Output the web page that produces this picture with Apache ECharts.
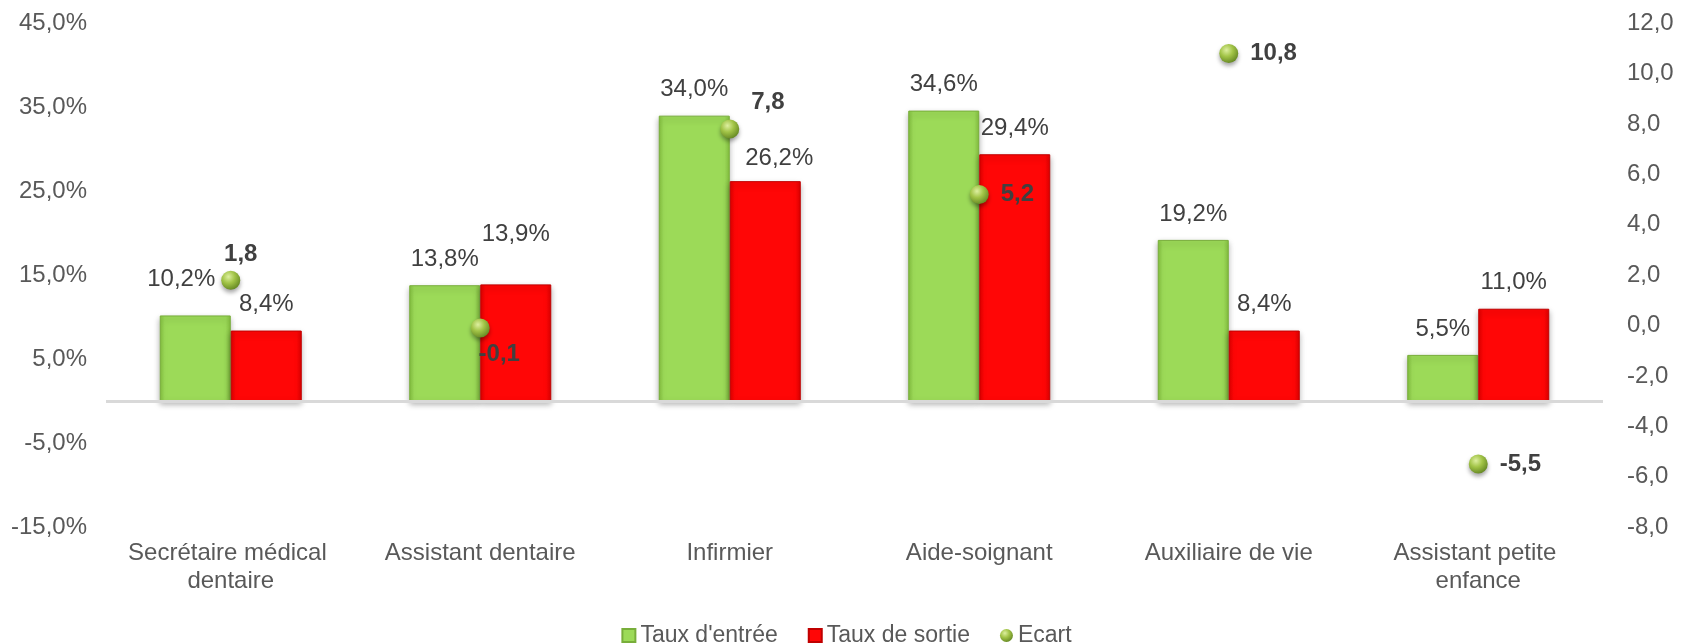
<!DOCTYPE html>
<html>
<head>
<meta charset="utf-8">
<script src="https://cdn.jsdelivr.net/npm/echarts@6/dist/echarts.min.js"></script>
<style>
  html, body { margin: 0; padding: 0; background: #fff; }
  #chart { width: 1693px; height: 643px; }
</style>
</head>
<body>
<div id="chart"></div>
<script>
var categories = ['Secrétaire médical dentaire', 'Assistant dentaire', 'Infirmier', 'Aide-soignant', 'Auxiliaire de vie', 'Assistant petite enfance'];
var tauxEntree = [10.2, 13.8, 34.0, 34.6, 19.2, 5.5];
var tauxSortie = [8.4, 13.9, 26.2, 29.4, 8.4, 11.0];
var ecart = [1.8, -0.1, 7.8, 5.2, 10.8, -5.5];
// axes : gauche en %, droite pour l'écart
var leftTicks = [-15, -5, 5, 15, 25, 35, 45];
var rightTicks = [-8, -6, -4, -2, 0, 2, 4, 6, 8, 10, 12];

var FONT = "'Liberation Sans', Arial, sans-serif";
var fr = function (v) { return v.toFixed(1).replace('.', ','); };

// petits décalages des étiquettes comme dans l'original
var entreeLabelOffset = { 0: [-14, -10] };
var sortieLabelOffset = { 1: [0, -24], 2: [14, 3] };
var ecartLabel = {
	0: { position: 'top', distance: 4, offset: [10, 0] },
	1: { position: 'bottom', distance: 5, offset: [19, 0] },
	2: { position: 'right', distance: 12, offset: [0, -27] }
};

function barItems(values, offsets) {
	return values.map(function (v, i) {
		var item = { value: v };
		if (offsets[i]) {
			item.label = { offset: offsets[i] };
		}
		return item;
	});
}

var greenFill = new echarts.graphic.LinearGradient(0, 0, 1, 0, [
	{ offset: 0, color: '#84C13F' },
	{ offset: 0.07, color: '#9CDA58' },
	{ offset: 0.93, color: '#9CDA58' },
	{ offset: 1, color: '#84C13F' }
]);
var redFill = new echarts.graphic.LinearGradient(0, 0, 1, 0, [
	{ offset: 0, color: '#E00000' },
	{ offset: 0.07, color: '#FF0606' },
	{ offset: 0.93, color: '#FF0606' },
	{ offset: 1, color: '#E00000' }
]);
function sphere() {
	return new echarts.graphic.RadialGradient(0.38, 0.32, 0.75, [
		{ offset: 0, color: '#DDEFA0' },
		{ offset: 0.45, color: '#A2C447' },
		{ offset: 1, color: '#5F8220' }
	]);
}

var barLabel = {
	show: true,
	position: 'top',
	distance: 14,
	color: '#404040',
	fontSize: 24,
	fontFamily: FONT,
	formatter: function (p) { return fr(p.value) + '%'; }
};

var myChart = echarts.init(document.getElementById('chart'));
var option = {
	animation: false,
	textStyle: { fontFamily: FONT },
	grid: {
		left: 106,
		right: 90,
		top: 23.3,
		bottom: 116,
		containLabel: false
	},
	legend: {
		top: 619,
		left: 'center',
		itemWidth: 13,
		itemHeight: 13,
		itemGap: 30,
		textStyle: { color: '#595959', fontSize: 23, fontFamily: FONT },
		data: [
			{ name: "Taux d'entrée", icon: 'rect' },
			{ name: 'Taux de sortie', icon: 'rect' },
			{ name: 'Ecart', icon: 'circle', itemStyle: { color: sphere(), shadowBlur: 0, shadowOffsetY: 0, borderWidth: 0 } }
		]
	},
	xAxis: {
		type: 'category',
		data: categories,
		axisLine: { show: false },
		axisTick: { show: false },
		splitLine: { show: false },
		axisLabel: {
			color: '#595959',
			fontSize: 24,
			fontFamily: FONT,
			lineHeight: 28,
			margin: 12,
			width: 235,
			overflow: 'break',
			interval: 0
		}
	},
	yAxis: [{
		type: 'value',
		min: leftTicks[0],
		max: leftTicks[leftTicks.length - 1],
		interval: 10,
		axisLine: { show: false },
		axisTick: { show: false },
		splitLine: { show: false },
		axisLabel: {
			color: '#595959',
			fontSize: 24,
			fontFamily: FONT,
			margin: 19,
			formatter: function (v) { return fr(v) + '%'; }
		}
	}, {
		type: 'value',
		min: rightTicks[0],
		max: rightTicks[rightTicks.length - 1],
		interval: 2,
		axisLine: { show: false },
		axisTick: { show: false },
		splitLine: { show: false },
		axisLabel: {
			color: '#595959',
			fontSize: 24,
			fontFamily: FONT,
			margin: 24,
			formatter: function (v) { return fr(v); }
		}
	}],
	series: [{
		name: "Taux d'entrée",
		type: 'bar',
		yAxisIndex: 0,
		barWidth: 71,
		barGap: '0%',
		data: barItems(tauxEntree, entreeLabelOffset),
		itemStyle: {
			color: greenFill,
			borderColor: '#78AE3A',
			borderWidth: 1,
			shadowColor: 'rgba(0, 0, 0, .3)',
			shadowBlur: 6,
			shadowOffsetY: 3
		},
		label: barLabel,
		markLine: {
			silent: true,
			symbol: 'none',
			label: { show: false },
			lineStyle: { color: '#D9D9D9', width: 3, type: 'solid' },
			data: [{ yAxis: 0 }]
		}
	}, {
		name: 'Taux de sortie',
		type: 'bar',
		yAxisIndex: 0,
		barWidth: 71,
		barGap: '0%',
		data: barItems(tauxSortie, sortieLabelOffset),
		itemStyle: {
			color: redFill,
			borderColor: '#C00000',
			borderWidth: 1,
			shadowColor: 'rgba(0, 0, 0, .3)',
			shadowBlur: 6,
			shadowOffsetY: 3
		},
		label: barLabel
	}, {
		name: 'Ecart',
		type: 'scatter',
		yAxisIndex: 1,
		symbol: 'circle',
		symbolSize: 19,
		z: 5,
		data: ecart.map(function (v, i) {
			var item = { value: v };
			if (ecartLabel[i]) {
				item.label = ecartLabel[i];
			}
			return item;
		}),
		itemStyle: {
			color: sphere(),
			opacity: 1,
			shadowColor: 'rgba(0, 0, 0, .35)',
			shadowBlur: 4,
			shadowOffsetY: 3
		},
		label: {
			show: true,
			position: 'right',
			distance: 12,
			color: '#404040',
			fontSize: 24,
			fontWeight: 'bold',
			fontFamily: FONT,
			formatter: function (p) { return fr(p.value); }
		}
	}]
};
myChart.setOption(option);
</script>
</body>
</html>
